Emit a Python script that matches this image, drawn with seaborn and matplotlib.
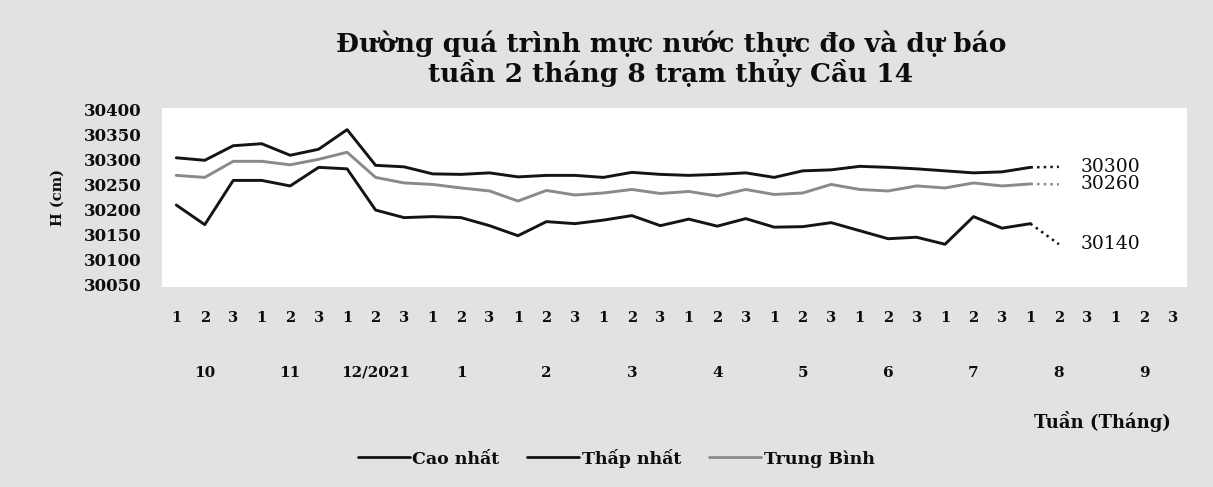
import matplotlib
matplotlib.use("Agg")
import matplotlib.pyplot as plt
import matplotlib.transforms as mtransforms
from matplotlib.lines import Line2D
import pandas as pd
import seaborn as sns

# Data (index 0 = week 1 of month 10)
MONTHS = ['10', '11', '12/2021', '1', '2', '3', '4', '5', '6', '7', '8', '9']
WEEKS = ['1', '2', '3']
SERIES = ['Cao nhất', 'Thấp nhất', 'Trung Bình']

cao_nhat = [30303, 30298, 30327, 30331, 30308, 30320, 30359, 30288, 30285, 30271,
            30270, 30273, 30265, 30268, 30268, 30264, 30274, 30270, 30268, 30270,
            30273, 30264, 30277, 30279, 30286, 30284, 30281, 30277, 30273, 30275,
            30284]
thap_nhat = [30209, 30170, 30258, 30258, 30247, 30284, 30281, 30199, 30184, 30186,
             30184, 30168, 30148, 30176, 30172, 30179, 30188, 30168, 30181, 30167,
             30182, 30165, 30166, 30174, 30158, 30142, 30145, 30131, 30186, 30163,
             30172]
trung_binh = [30268, 30264, 30296, 30296, 30289, 30300, 30314, 30264, 30253, 30250,
              30243, 30237, 30217, 30238, 30229, 30233, 30240, 30232, 30236, 30227,
              30240, 30230, 30233, 30250, 30240, 30237, 30247, 30243, 30253, 30247,
              30251]

# forecast for week 2 of month 8 (drawn position) and the printed values
forecast_draw = [30285, 30131, 30250]
forecast_text = ['30300', '30140', '30260']

COLORS = {'Cao nhất': '#141414', 'Thấp nhất': '#141414', 'Trung Bình': '#8a8a8a'}

sns.set_theme(style='white')
plt.rcParams['font.family'] = ['DejaVu Serif']
plt.rcParams['text.color'] = '#0d0d0d'
plt.rcParams['xtick.color'] = '#0d0d0d'
plt.rcParams['ytick.color'] = '#0d0d0d'

obs = pd.DataFrame({
    'idx': list(range(len(cao_nhat))) * 3,
    'series': [s for s in SERIES for _ in range(len(cao_nhat))],
    'H': cao_nhat + thap_nhat + trung_binh,
})
last = len(cao_nhat) - 1
fc = pd.DataFrame({
    'idx': [last, last + 1] * 3,
    'series': [s for s in SERIES for _ in range(2)],
    'H': [cao_nhat[-1], forecast_draw[0], thap_nhat[-1], forecast_draw[1],
          trung_binh[-1], forecast_draw[2]],
})

fig = plt.figure(figsize=(12.13, 4.87), dpi=100)
fig.patch.set_facecolor('#e2e2e2')
ax = fig.add_axes([0.1336, 0.4107, 0.845, 0.3675])
ax.set_facecolor('white')

sns.lineplot(data=obs, x='idx', y='H', hue='series', palette=COLORS,
             linewidth=2.1, legend=False, ax=ax)
sns.lineplot(data=fc, x='idx', y='H', hue='series', palette=COLORS,
             linewidth=1.8, linestyle=':', legend=False, ax=ax)

# forecast labels
for val, txt in zip(forecast_draw, forecast_text):
    ax.text(last + 1.75, val, txt, fontsize=13.5, va='center', ha='left')

n_pos = len(MONTHS) * len(WEEKS)
ax.set_xlim(-0.5, n_pos - 0.5)
ax.set_ylim(30046, 30402)
ax.set_xticks(range(n_pos))
ax.set_xticklabels(WEEKS * len(MONTHS), fontsize=10.5, fontweight='bold')
ax.set_yticks(range(30050, 30401, 50))
ax.set_yticklabels([str(v) for v in range(30050, 30401, 50)], fontsize=12, fontweight='bold')
ax.tick_params(axis='x', length=0, pad=17.5)
ax.tick_params(axis='y', length=0, pad=14.5)
ax.set_xlabel('')
ax.set_ylabel('')
sns.despine(ax=ax, left=True, bottom=True, top=True, right=True)
ax.grid(False)

fig.text(58 / 1213, 1 - 197 / 487, 'H (cm)', rotation=90, ha='center', va='center',
         fontsize=10.5, fontweight='bold')

# month labels under the middle week
trans = mtransforms.blended_transform_factory(ax.transData, ax.transAxes)
for i, m in enumerate(MONTHS):
    ax.text(i * 3 + 1, -0.48, m, transform=trans, ha='center', va='center',
            fontsize=11, fontweight='bold')

fig.text(1102 / 1213, 1 - 422 / 487, 'Tuần (Tháng)', ha='center', va='center',
         fontsize=13, fontweight='bold')

# title, two lines
fig.text(0.553, 1 - 52 / 487, 'Đường quá trình mực nước thực đo và dự báo',
         ha='center', va='baseline', fontsize=19, fontweight='bold')
fig.text(0.553, 1 - 82 / 487, 'tuần 2 tháng 8 trạm thủy Cầu 14',
         ha='center', va='baseline', fontsize=19, fontweight='bold')

handles = [Line2D([0], [0], color=COLORS[s], lw=2.0) for s in SERIES]
leg = fig.legend(handles, SERIES, loc='center', bbox_to_anchor=(0.508, 1 - 458 / 487), ncol=3,
                 frameon=False, handlelength=3.0, handletextpad=0.15, columnspacing=1.6,
                 prop={'size': 12.5, 'weight': 'bold'})

plt.savefig('out.png', dpi=100, facecolor=fig.get_facecolor())
